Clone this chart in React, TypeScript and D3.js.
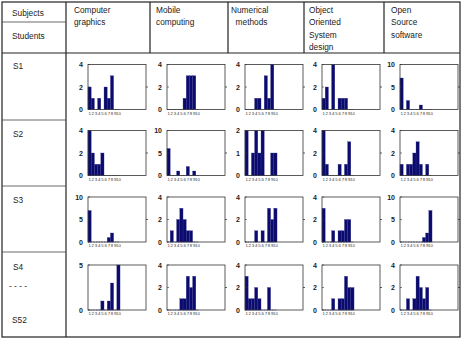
import React from "react";
import * as d3 from "d3";

// subject column headers (one entry per line)
const subjects = [
  ["Computer", "graphics"],
  ["Mobile", "computing"],
  ["Numerical", "\u00a0\u00a0methods"],
  ["Object", "Oriented", "System", "design"],
  ["Open", "Source", "software"],
];

const studentLabels = ["S1", "S2", "S3", "S4"];
const bins = [1, 2, 3, 4, 5, 6, 7, 8, 9, 10];

// counts per bin, one array per subject
const s1Counts = [
  [2, 1, 0, 1, 0, 2, 1, 3, 0, 0],
  [0, 0, 0, 0, 0, 1, 3, 3, 3, 0],
  [0, 0, 0, 1, 1, 0, 3, 1, 4, 0],
  [1, 2, 0, 4, 0, 1, 1, 1, 0, 0],
  [7, 0, 2, 0, 0, 0, 1, 0, 0, 0],
];
const s2Counts = [
  [4, 2, 1, 1, 2, 0, 0, 0, 0, 0],
  [6, 0, 0, 1, 0, 0, 2, 0, 1, 0],
  [2, 0, 1, 2, 1, 2, 0, 0, 1, 1],
  [4, 1, 0, 0, 0, 1, 0, 1, 3, 0],
  [1, 0, 1, 1, 2, 3, 1, 0, 1, 0],
];
const s3Counts = [
  [7, 0, 0, 0, 0, 0, 1, 2, 0, 0],
  [0, 1, 0, 2, 3, 2, 1, 1, 0, 0],
  [0, 0, 0, 1, 0, 1, 0, 3, 2, 3],
  [3, 0, 0, 1, 0, 1, 1, 2, 2, 0],
  [0, 0, 0, 0, 0, 0, 0, 1, 2, 7],
];
const s4Counts = [
  [0, 0, 0, 0, 1, 0, 1, 3, 0, 5],
  [0, 0, 0, 0, 1, 1, 3, 2, 3, 0],
  [3, 1, 1, 2, 1, 0, 0, 2, 0, 0],
  [0, 0, 0, 1, 0, 1, 1, 3, 2, 2],
  [0, 0, 1, 0, 1, 3, 2, 1, 2, 0],
];

// y axis top per chart
const s1Top = [4, 4, 4, 4, 10];
const s2Top = [4, 10, 2, 4, 4];
const s3Top = [10, 4, 4, 4, 10];
const s4Top = [5, 4, 4, 4, 4];

const rows = [
  { counts: s1Counts, tops: s1Top },
  { counts: s2Counts, tops: s2Top },
  { counts: s3Counts, tops: s3Top },
  { counts: s4Counts, tops: s4Top },
];

const W = 464;
const H = 341;
const font = "'Liberation Sans', Arial, sans-serif";
const barFill = "#0b0b6e";

const boxLefts = [88, 167, 245, 322, 400];
const boxTops = [64.5, 130.5, 197, 265];
const boxW = 58;
const boxH = 45;

const headerX = [74, 156, 231, 309, 391];
const rowLabelY = [69, 137, 203, 270];

const yTicksFor = (top) => (top === 5 ? [0, 5] : [0, top / 2, top]);

const Hist = ({ bx, by, counts, top }) => {
  const x = d3.scaleLinear().domain([0.5, 18.6]).range([bx, bx + boxW]);
  const y = d3.scaleLinear().domain([0, top]).range([by + boxH, by]);
  const ticks = yTicksFor(top);
  return (
    <g>
      <line
        x1={x(0.5)}
        x2={x(10.5)}
        y1={y(0)}
        y2={y(0)}
        stroke="#2a2a80"
        strokeWidth={0.8}
        strokeDasharray="0.8 0.8"
      />
      {bins.map((b, i) =>
        counts[i] > 0 ? (
          <rect
            key={b}
            x={x(b - 0.5)}
            width={x(b + 0.5) - x(b - 0.5)}
            y={y(counts[i])}
            height={y(0) - y(counts[i])}
            fill={barFill}
            stroke="#3a3a90"
            strokeWidth={0.3}
          />
        ) : null
      )}
      <rect x={bx} y={by} width={boxW} height={boxH} fill="none" stroke="#333" strokeWidth={0.8} />
      {ticks.map((t) => (
        <g key={t}>
          <line x1={bx} x2={bx + 2} y1={y(t)} y2={y(t)} stroke="#333" strokeWidth={0.6} />
          {t > 0 && t < top ? (
            <line x1={bx + boxW} x2={bx + boxW + 2} y1={y(t)} y2={y(t)} stroke="#333" strokeWidth={0.8} />
          ) : null}
          <text
            x={bx - 5}
            y={y(t) + 2.5}
            textAnchor="end"
            fontSize={7}
            fontWeight="bold"
            fill="#222"
            fontFamily={font}
          >
            {t}
          </text>
        </g>
      ))}
      {bins.map((b) => (
        <text
          key={"x" + b}
          x={x(b)}
          y={by + boxH + 5}
          textAnchor="middle"
          fontSize={4.3}
          fill="#333"
          fontFamily={font}
        >
          {b}
        </text>
      ))}
    </g>
  );
};

export default function App() {
  return (
    <svg
      width={W}
      height={H}
      style={{ position: "absolute", left: 0, top: 0, background: "#fff" }}
    >
      <rect x={0} y={0} width={W} height={H} fill="#fff" />
      {/* table lines */}
      <rect x={2} y={2} width={458} height={335} fill="none" stroke="#222" strokeWidth={1.2} />
      <line x1={2} x2={460} y1={53} y2={53} stroke="#222" strokeWidth={1.2} />
      <line x1={66} x2={66} y1={2} y2={337} stroke="#222" strokeWidth={1.2} />
      <line x1={2} x2={66} y1={22} y2={22} stroke="#444" strokeWidth={0.8} />
      {[150, 228, 304, 384].map((sx) => (
        <line key={sx} x1={sx} x2={sx} y1={2} y2={53} stroke="#222" strokeWidth={1.2} />
      ))}
      {[120, 186, 252].map((ly) => (
        <line key={ly} x1={2} x2={66} y1={ly} y2={ly} stroke="#444" strokeWidth={0.8} />
      ))}

      {/* headers */}
      <text x={12} y={16} fontSize={8.3} fontFamily={font} fill="#222">Subjects</text>
      <text x={12} y={39} fontSize={8.3} fontFamily={font} fill="#222">Students</text>
      {subjects.map((lines, c) => (
        <text key={c} fontSize={8.3} fontFamily={font} fill="#222">
          {lines.map((l, k) => (
            <tspan key={k} x={headerX[c]} y={12.5 + k * 12.6}>
              {l}
            </tspan>
          ))}
        </text>
      ))}

      {/* student labels */}
      {studentLabels.map((s, r) => (
        <text key={s} x={13} y={rowLabelY[r]} fontSize={8.3} fontFamily={font} fill="#222">
          {s}
        </text>
      ))}
      <text x={9} y={289} fontSize={8.3} fontFamily={font} fill="#222">- - - -</text>
      <text x={12} y={323} fontSize={8.3} fontFamily={font} fill="#222">S52</text>

      {/* histograms */}
      {rows.map((row, r) =>
        row.counts.map((counts, c) => (
          <Hist
            key={r + "-" + c}
            bx={boxLefts[c]}
            by={boxTops[r]}
            counts={counts}
            top={row.tops[c]}
          />
        ))
      )}
    </svg>
  );
}
